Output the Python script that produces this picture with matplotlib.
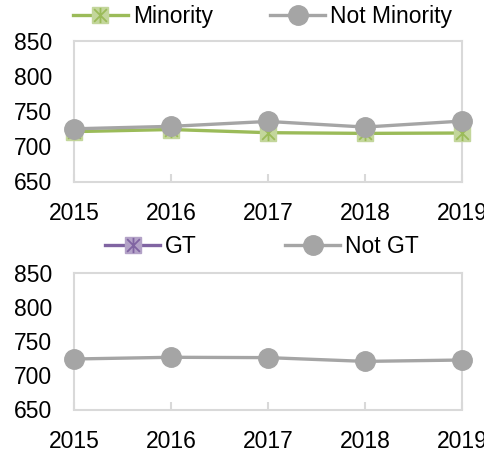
import matplotlib
matplotlib.use("Agg")
import matplotlib.pyplot as plt
from matplotlib.path import Path
from matplotlib.lines import Line2D

plt.rcParams['font.family'] = ['Liberation Sans', 'DejaVu Sans']

years = [2015, 2016, 2017, 2018, 2019]
minority = [721, 724, 719.5, 718.5, 719]
not_minority = [725, 728.5, 735.5, 727.5, 736]
gt = [None, None, None, None, None]
not_gt = [724, 726.5, 726, 720.5, 722.5]
yticks = [650, 700, 750, 800, 850]

GREEN = '#9BBB59'
GREEN_FILL = '#C3D69B'
GREY = '#A5A5A5'
PURPLE = '#8064A2'
PURPLE_FILL = '#B3A2C7'
FRAME = '#D9D9D9'

# Excel-style star marker: x plus vertical bar
star = Path([(-1, -1), (1, 1), (-1, 1), (1, -1), (0, -1.2), (0, 1.2)],
            [Path.MOVETO, Path.LINETO, Path.MOVETO, Path.LINETO, Path.MOVETO, Path.LINETO])

fig = plt.figure(figsize=(4.85, 4.55), dpi=100)
W, H = 485, 455

def make_ax(top, bottom, left=74, right=462):
    return fig.add_axes([left / W, 1 - bottom / H, (right - left) / W, (bottom - top) / H])

FS = 16.5

def style(ax):
    ax.set_xlim(2015, 2019)
    ax.set_ylim(650, 850)
    ax.set_xticks(years)
    ax.set_yticks(yticks)
    for s in ax.spines.values():
        s.set_color(FRAME)
        s.set_linewidth(1.5)
    ax.tick_params(axis='x', direction='in', length=5.5, width=1.5, color=FRAME,
                   labelsize=FS, pad=15)
    ax.tick_params(axis='y', length=0, labelsize=FS, pad=16)
    ax.set_facecolor('white')

def series(ax, y, color, fill, kind, zorder):
    xs = [x for x, v in zip(years, y) if v is not None]
    ys = [v for v in y if v is not None]
    if kind == 'star':
        ax.plot(xs, ys, color=color, lw=2.4, marker='s', ms=11.5,
                mfc=fill, mec=fill, clip_on=False, zorder=zorder)
        ax.plot(xs, ys, ls='none', marker=star, ms=11, mec=color, mew=1.3,
                clip_on=False, zorder=zorder + 0.1)
    else:
        ax.plot(xs, ys, color=color, lw=2.4, marker='o', ms=14,
                mfc=color, mec=color, clip_on=False, zorder=zorder)

def legend_entry(x, y, label, color, fill, kind):
    if kind == 'star':
        h = (Line2D([], [], color=color, lw=2.4, marker='s', ms=11.5, mfc=fill, mec=fill),
             Line2D([], [], ls='none', marker=star, ms=11, mec=color, mew=1.3))
    else:
        h = Line2D([], [], color=color, lw=2.4, marker='o', ms=14, mfc=color, mec=color)
    fig.legend([h], [label], loc='center left', bbox_to_anchor=(x / W, 1 - y / H),
               frameon=False, fontsize=FS, handlelength=2.4, handletextpad=0.22,
               borderpad=0, borderaxespad=0)

ax1 = make_ax(41, 181.5)
style(ax1)
series(ax1, minority, GREEN, GREEN_FILL, 'star', 3)
series(ax1, not_minority, GREY, GREY, 'circle', 4)
legend_entry(73, 17, 'Minority', GREEN, GREEN_FILL, 'star')
legend_entry(270, 17, 'Not Minority', GREY, GREY, 'circle')

ax2 = make_ax(273, 409.5)
style(ax2)
series(ax2, not_gt, GREY, GREY, 'circle', 4)
legend_entry(105, 247, 'GT', PURPLE, PURPLE_FILL, 'star')
legend_entry(285, 247, 'Not GT', GREY, GREY, 'circle')

fig.savefig('out.png', dpi=100, facecolor='white')
